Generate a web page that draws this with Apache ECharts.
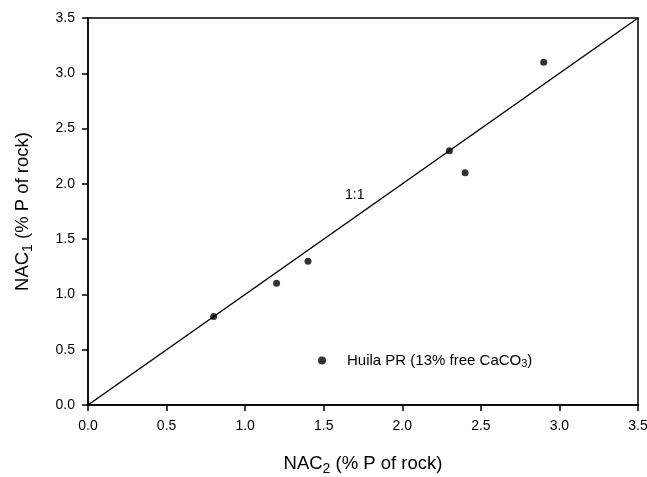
<!DOCTYPE html>
<html lang="en">
<head>
    <meta charset="UTF-8">
    <title>NAC1 vs NAC2</title>
    <script src="https://cdn.jsdelivr.net/npm/echarts@6/dist/echarts.min.js"></script>
</head>
<body style="margin:0;background:#fff;">
<div id="box" style="width: 647px;height: 477px;"></div>
<script>
    // Huila PR measured points [NAC2, NAC1]
    var nac2 = [0.8, 1.2, 1.4, 2.3, 2.4, 2.9];
    var nac1 = [0.8, 1.1, 1.3, 2.3, 2.1, 3.1];
    var oneToOne = [[0, 0], [3.5, 3.5]];
    var tickStep = 0.5;

    var pts = nac2.map(function (x, i) { return [x, nac1[i]]; });
    var font = 'Liberation Sans, Arial, sans-serif';
    var subRich = {
        sub: { fontSize: 14, verticalAlign: 'bottom', padding: [10, 0, 0, 0], fontFamily: font, color: '#000' }
    };

    var myChart = echarts.init(document.getElementById('box'));
    var option = {
        animation: false,
        grid: {
            left: 88, right: 9, top: 18, bottom: 72,
            outerBoundsMode: 'none',
            show: true, borderColor: '#000', borderWidth: 1.5
        },
        legend: {
            left: 313, top: 348,
            itemWidth: 8, itemHeight: 8,
            data: [{ name: 'Huila', icon: 'circle' }],
            formatter: function () { return 'Huila PR (13% free CaCO{s|3})'; },
            textStyle: {
                fontFamily: font, fontSize: 15, color: '#000', padding: [0, 0, 0, 16],
                rich: { s: { fontSize: 11, verticalAlign: 'bottom', padding: [7, 0, 0, 0], fontFamily: font, color: '#000' } }
            }
        },
        xAxis: {
            type: 'value', min: 0, max: 3.5, interval: tickStep,
            name: 'NAC{sub|2} (% P of rock)',
            nameLocation: 'middle', nameGap: 47,
            nameTextStyle: { fontFamily: font, fontSize: 18.5, color: '#000', rich: subRich },
            axisLine: { lineStyle: { color: '#000', width: 1.5 } },
            axisTick: { inside: false, length: 6, lineStyle: { color: '#000', width: 1.5 } },
            axisLabel: { fontFamily: font, fontSize: 14, color: '#000', margin: 14,
                formatter: function (v) { return v.toFixed(1); } },
            splitLine: { show: false }
        },
        yAxis: {
            type: 'value', min: 0, max: 3.5, interval: tickStep,
            name: 'NAC{sub|1} (% P of rock)',
            nameLocation: 'middle', nameGap: 53,
            nameTextStyle: { fontFamily: font, fontSize: 18.5, color: '#000', rich: subRich },
            axisLine: { lineStyle: { color: '#000', width: 1.5 } },
            axisTick: { inside: false, length: 6, lineStyle: { color: '#000', width: 1.5 } },
            axisLabel: { fontFamily: font, fontSize: 14, color: '#000', margin: 13,
                formatter: function (v) { return v.toFixed(1); } },
            splitLine: { show: false }
        },
        series: [
            {
                name: '1:1',
                type: 'line',
                data: oneToOne,
                symbol: 'none',
                lineStyle: { color: '#000', width: 1.5 },
                silent: true
            },
            {
                name: 'Huila',
                type: 'scatter',
                data: pts,
                symbol: 'circle',
                symbolSize: 7,
                itemStyle: { color: '#000' }
            }
        ],
        graphic: [
            {
                type: 'text', left: 345, top: 188,
                style: { text: '1:1', fontFamily: font, fontSize: 14, fill: '#000' }
            }
        ]
    };
    myChart.setOption(option);
</script>
</body>
</html>
